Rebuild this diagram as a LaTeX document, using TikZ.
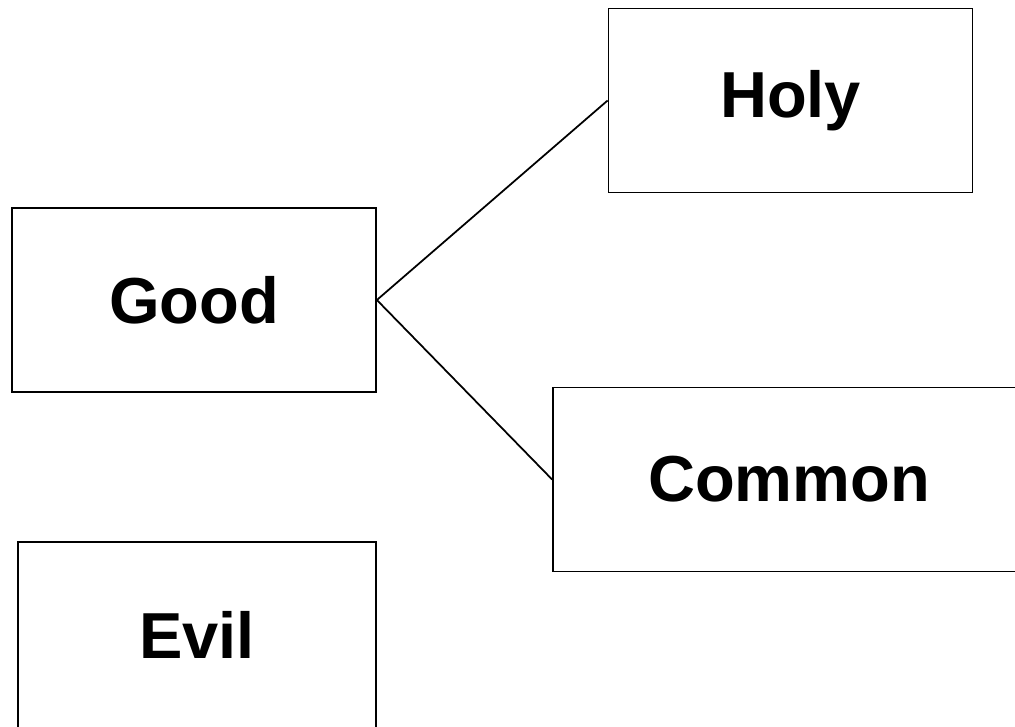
\documentclass[tikz,border=0pt]{standalone}
\usepackage{fontspec}
\setmainfont{Liberation Sans}
\usepackage{tikz}

\begin{document}
\begin{tikzpicture}[line width = 1pt, every node/.style = {draw, rectangle, minimum width = 7.28cm, minimum height = 3.68cm, font = \fontsize{37}{44}\selectfont\bfseries}]
    \clip (0, 0) rectangle (20.3, 14.52);
    \node (good) at (3.88, 8.52) {Good};
    \node (holy) at (15.81, 12.51) {Holy};
    \node[minimum width = 9.44cm] (common) at (15.78, 4.93) {Common};
    \node[minimum width = 7.16cm, minimum height = 3.72cm] (evil) at (3.94, 1.82) {Evil};
    \draw (good.east) -- (holy.west);
    \draw (good.east) -- (common.west);
\end{tikzpicture}
\end{document}
